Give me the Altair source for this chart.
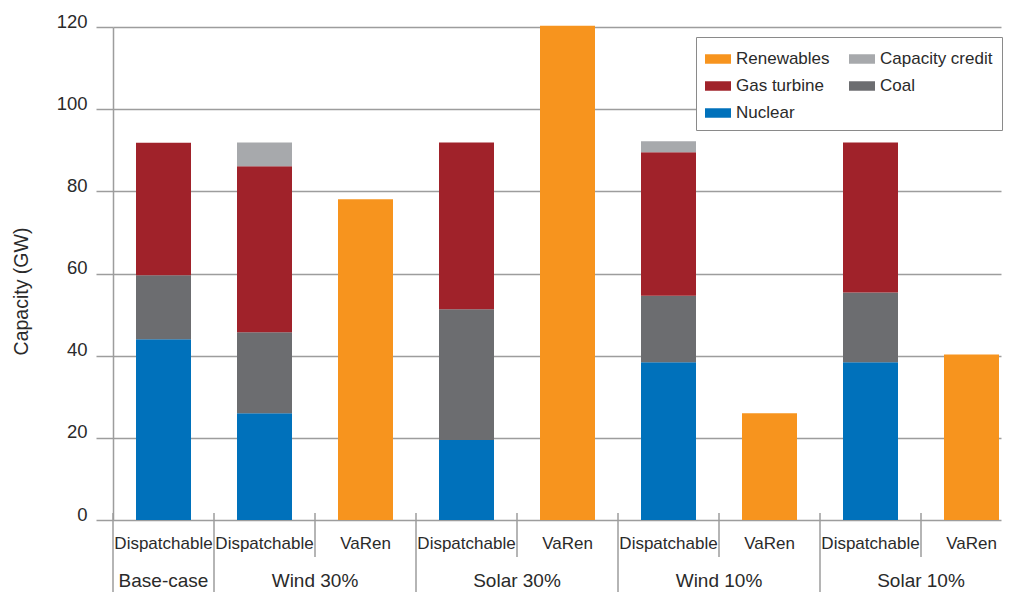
import altair as alt
import pandas as pd

# ---- data ----
groups = ["Base-case", "Wind 30%", "Wind 30%", "Solar 30%", "Solar 30%",
          "Wind 10%", "Wind 10%", "Solar 10%", "Solar 10%"]
subs = ["Dispatchable", "Dispatchable", "VaRen", "Dispatchable", "VaRen",
        "Dispatchable", "VaRen", "Dispatchable", "VaRen"]
nuclear = [44.0, 26.0, 0, 19.5, 0, 38.4, 0, 38.4, 0]
coal = [15.6, 19.7, 0, 31.8, 0, 16.2, 0, 17.0, 0]
gas_turbine = [32.2, 40.4, 0, 40.6, 0, 34.9, 0, 36.5, 0]
capacity_credit = [0, 5.8, 0, 0, 0, 2.7, 0, 0, 0]
renewables = [0, 0, 78.1, 0, 120.3, 0, 26.0, 0, 40.3]

# legend is laid out column by column
legend_order = ["Renewables", "Gas turbine", "Nuclear", "Capacity credit", "Coal"]
colors = ["#F7941E", "#A0222A", "#0071BB", "#A7A9AC", "#6C6D70"]
stack_order = ["Nuclear", "Coal", "Gas turbine", "Capacity credit", "Renewables"]
y_ticks = [0, 20, 40, 60, 80, 100, 120]

series = {
    "Nuclear": nuclear,
    "Coal": coal,
    "Gas turbine": gas_turbine,
    "Capacity credit": capacity_credit,
    "Renewables": renewables,
}

rows = []
for i in range(len(subs)):
    for name, vals in series.items():
        if vals[i] > 0:
            rows.append({"pos": i + 0.5, "source": name, "value": vals[i],
                         "rank": stack_order.index(name)})
bars_df = pd.DataFrame(rows)

cols_df = pd.DataFrame({"pos": [i + 0.5 for i in range(len(subs))],
                        "sub": subs, "group": groups})
group_df = cols_df.groupby("group", sort=False)["pos"].mean().reset_index()

boundary_long = [0]
boundary_short = []
for i in range(1, len(subs)):
    if groups[i] != groups[i - 1]:
        boundary_long.append(i)
    else:
        boundary_short.append(i)
long_df = pd.DataFrame({"pos": boundary_long})
short_df = pd.DataFrame({"pos": boundary_short})

COL = 101              # pixels per column
W, H = 888, 493
GRID = "#9D9D9D"
TXT = "#2a2a2a"
FONT = "Liberation Sans"


def xq():
    return alt.X("pos:Q", scale=alt.Scale(domain=[0, W / COL], nice=False, zero=False,
                                          padding=0),
                 axis=None)


bars = alt.Chart(bars_df).mark_bar(size=55).encode(
    x=xq(),
    y=alt.Y("value:Q", stack="zero",
            scale=alt.Scale(domain=[0, 120], nice=False),
            title="Capacity (GW)",
            axis=alt.Axis(values=y_ticks, grid=True, gridColor=GRID, gridWidth=1.5,
                          tickSize=17, tickColor=GRID, tickWidth=1.5,
                          domainColor=GRID, domainWidth=1.5,
                          labelFontSize=18.5, labelColor=TXT, labelBaseline="alphabetic",
                          labelPadding=9, titleFontSize=19.5, titleFontWeight="normal",
                          titleColor=TXT, titleX=-82, titleY=264)),
    color=alt.Color("source:N",
                    scale=alt.Scale(domain=legend_order, range=colors),
                    legend=alt.Legend(title=None, orient="none", legendX=583, legendY=10,
                                      columns=2, padding=9, rowPadding=6, columnPadding=19,
                                      labelFontSize=17, labelColor=TXT, labelOffset=5,
                                      symbolType="M-1,-0.365H1V0.365H-1Z", symbolSize=676,
                                      symbolStrokeWidth=0, strokeColor="#8A8A8A",
                                      fillColor="white", cornerRadius=0)),
    order=alt.Order("rank:Q"),
)

rules_long = alt.Chart(long_df).mark_rule(color=GRID, strokeWidth=1.5).encode(
    x=xq(), y=alt.value(H - 7), y2=alt.value(H + 80))
rules_short = alt.Chart(short_df).mark_rule(color=GRID, strokeWidth=1.5).encode(
    x=xq(), y=alt.value(H - 7), y2=alt.value(H + 37))

sub_text = alt.Chart(cols_df).mark_text(fontSize=17, baseline="alphabetic", color=TXT).encode(
    x=xq(), y=alt.value(H + 29), text="sub:N")
group_text = alt.Chart(group_df).mark_text(fontSize=19, baseline="alphabetic", color=TXT).encode(
    x=xq(), y=alt.value(H + 67), text="group:N")

chart = alt.layer(bars, rules_long, rules_short, sub_text, group_text).properties(
    width=W, height=H,
    autosize=alt.AutoSizeParams(type="none"),
    padding={"left": 105, "top": 19, "right": 2, "bottom": 72},
).configure(font=FONT).configure_view(stroke=None)

chart.save("out.html", embed_options={"renderer": "svg", "actions": False})
